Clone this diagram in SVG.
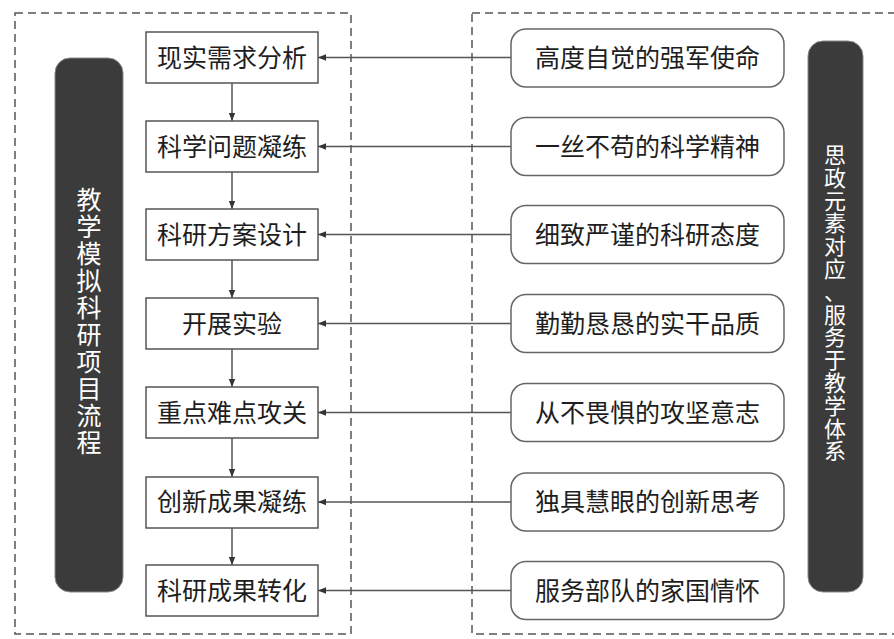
<svg xmlns="http://www.w3.org/2000/svg" width="894" height="639" viewBox="0 0 894 639">
<style>
.frame{fill:none;stroke:#555;stroke-width:1.5;stroke-dasharray:8 5}
.box{fill:#fff;stroke:#555;stroke-width:1.5}
.rbox{fill:#fff;stroke:#666;stroke-width:1.5}
.pill{fill:#3b3b3b;stroke:#888;stroke-width:1}
.t{font-family:"Noto Sans CJK SC","Noto Sans",sans-serif;font-size:25px;fill:#1e1e1e;text-anchor:middle}
.pt{font-family:"Noto Sans CJK SC","Noto Sans",sans-serif;fill:#fff;text-anchor:middle}
.ln{stroke:#555;stroke-width:1.5;fill:none}
</style>
<defs>
<marker id="ah" viewBox="0 0 10 10" refX="10" refY="5" markerWidth="8" markerHeight="8" markerUnits="userSpaceOnUse" orient="auto">
<path d="M0,1 L10,5 L0,9 z" fill="#333"/>
</marker>
</defs>
<rect width="894" height="639" fill="#fff"/>
<g id="frames">
<rect class="frame" x="15" y="13" width="336" height="621"/>
<rect class="frame" x="472" y="13" width="430" height="621"/>
</g>
<g id="connectors">
<line class="ln" x1="232" y1="83" x2="232" y2="121" marker-end="url(#ah)"/>
<line class="ln" x1="232" y1="172" x2="232" y2="209" marker-end="url(#ah)"/>
<line class="ln" x1="232" y1="260" x2="232" y2="298" marker-end="url(#ah)"/>
<line class="ln" x1="232" y1="349" x2="232" y2="387" marker-end="url(#ah)"/>
<line class="ln" x1="232" y1="438" x2="232" y2="477" marker-end="url(#ah)"/>
<line class="ln" x1="232" y1="528" x2="232" y2="565" marker-end="url(#ah)"/>
<line class="ln" x1="511" y1="57.5" x2="318" y2="57.5" marker-end="url(#ah)"/>
<line class="ln" x1="511" y1="146.5" x2="318" y2="146.5" marker-end="url(#ah)"/>
<line class="ln" x1="511" y1="234.5" x2="318" y2="234.5" marker-end="url(#ah)"/>
<line class="ln" x1="511" y1="323.5" x2="318" y2="323.5" marker-end="url(#ah)"/>
<line class="ln" x1="511" y1="412.5" x2="318" y2="412.5" marker-end="url(#ah)"/>
<line class="ln" x1="511" y1="502" x2="318" y2="502" marker-end="url(#ah)"/>
<line class="ln" x1="511" y1="590.5" x2="318" y2="590.5" marker-end="url(#ah)"/>
</g>
<g id="pill-left">
<rect class="pill" x="55" y="58" width="68" height="534" rx="15"/>
<text class="pt" font-size="25"><tspan x="89" y="209">教</tspan><tspan x="89" y="236">学</tspan><tspan x="89" y="263">模</tspan><tspan x="89" y="290">拟</tspan><tspan x="89" y="317">科</tspan><tspan x="89" y="344">研</tspan><tspan x="89" y="371">项</tspan><tspan x="89" y="398">目</tspan><tspan x="89" y="425">流</tspan><tspan x="89" y="452">程</tspan></text>
</g>
<g id="pill-right">
<rect class="pill" x="808" y="41" width="55" height="551" rx="15"/>
<text class="pt" font-size="22"><tspan x="835" y="163">思</tspan><tspan x="835" y="185.8">政</tspan><tspan x="835" y="208.6">元</tspan><tspan x="835" y="231.4">素</tspan><tspan x="835" y="254.2">对</tspan><tspan x="835" y="277">应</tspan><tspan x="835" y="299.8">、</tspan><tspan x="835" y="322.6">服</tspan><tspan x="835" y="345.4">务</tspan><tspan x="835" y="368.2">于</tspan><tspan x="835" y="391">教</tspan><tspan x="835" y="413.8">学</tspan><tspan x="835" y="436.6">体</tspan><tspan x="835" y="459.4">系</tspan></text>
</g>
<g id="step1"><rect class="box" x="146" y="32" width="172" height="51"/><text class="t" x="232" y="66.5">现实需求分析</text></g>
<g id="step2"><rect class="box" x="146" y="121" width="172" height="51"/><text class="t" x="232" y="155.5">科学问题凝练</text></g>
<g id="step3"><rect class="box" x="146" y="209" width="172" height="51"/><text class="t" x="232" y="243.5">科研方案设计</text></g>
<g id="step4"><rect class="box" x="146" y="298" width="172" height="51"/><text class="t" x="232" y="332.5">开展实验</text></g>
<g id="step5"><rect class="box" x="146" y="387" width="172" height="51"/><text class="t" x="232" y="421.5">重点难点攻关</text></g>
<g id="step6"><rect class="box" x="146" y="477" width="172" height="51"/><text class="t" x="232" y="511">创新成果凝练</text></g>
<g id="step7"><rect class="box" x="146" y="565" width="172" height="51"/><text class="t" x="232" y="599.5">科研成果转化</text></g>
<g id="value1"><rect class="rbox" x="511" y="29" width="273" height="58" rx="15"/><text class="t" x="647.5" y="67" font-size="25.5">高度自觉的强军使命</text></g>
<g id="value2"><rect class="rbox" x="511" y="117.5" width="273" height="58" rx="15"/><text class="t" x="647.5" y="155.5" font-size="25.5">一丝不苟的科学精神</text></g>
<g id="value3"><rect class="rbox" x="511" y="205.5" width="273" height="58" rx="15"/><text class="t" x="647.5" y="243.5" font-size="25.5">细致严谨的科研态度</text></g>
<g id="value4"><rect class="rbox" x="511" y="294.5" width="273" height="58" rx="15"/><text class="t" x="647.5" y="332.5" font-size="25.5">勤勤恳恳的实干品质</text></g>
<g id="value5"><rect class="rbox" x="511" y="383.5" width="273" height="58" rx="15"/><text class="t" x="647.5" y="421.5" font-size="25.5">从不畏惧的攻坚意志</text></g>
<g id="value6"><rect class="rbox" x="511" y="473" width="273" height="58" rx="15"/><text class="t" x="647.5" y="511" font-size="25.5">独具慧眼的创新思考</text></g>
<g id="value7"><rect class="rbox" x="511" y="561.5" width="273" height="58" rx="15"/><text class="t" x="647.5" y="599.5" font-size="25.5">服务部队的家国情怀</text></g>
</svg>
